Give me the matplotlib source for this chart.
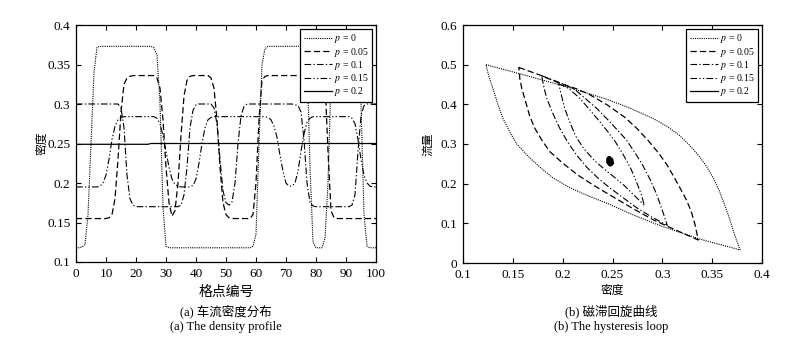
import matplotlib
matplotlib.use("Agg")
import matplotlib.pyplot as plt
import numpy as np

plt.rcParams['font.family'] = ['Liberation Serif', 'Noto Sans CJK SC']
plt.rcParams['mathtext.fontset'] = 'stix'

# ---- data: density profile along the lattice (sites 0..100) ----
sites = np.arange(101)

rho_p0 = [
    0.118, 0.118, 0.119, 0.122, 0.160, 0.250, 0.340, 0.372, 0.373, 0.373,
    0.373, 0.373, 0.373, 0.373, 0.373, 0.373, 0.373, 0.373, 0.373, 0.373,
    0.373, 0.373, 0.373, 0.373, 0.373, 0.373, 0.371, 0.362, 0.300, 0.170,
    0.120, 0.118, 0.118, 0.118, 0.118, 0.118, 0.118, 0.118, 0.118, 0.118,
    0.118, 0.118, 0.118, 0.118, 0.118, 0.118, 0.118, 0.118, 0.118, 0.118,
    0.118, 0.118, 0.118, 0.118, 0.118, 0.118, 0.118, 0.118, 0.118, 0.120,
    0.135, 0.250, 0.350, 0.370, 0.373, 0.373, 0.373, 0.373, 0.373, 0.373,
    0.373, 0.373, 0.373, 0.373, 0.373, 0.373, 0.372, 0.360, 0.220, 0.125,
    0.118, 0.118, 0.118, 0.130, 0.200, 0.330, 0.368, 0.373, 0.373, 0.373,
    0.373, 0.373, 0.373, 0.373, 0.365, 0.300, 0.160, 0.120, 0.118, 0.118,
    0.118]

rho_p005 = [
    0.155, 0.155, 0.155, 0.155, 0.155, 0.155, 0.155, 0.155, 0.155, 0.155,
    0.155, 0.156, 0.160, 0.180, 0.230, 0.290, 0.325, 0.333, 0.335, 0.336,
    0.336, 0.336, 0.336, 0.336, 0.336, 0.336, 0.336, 0.333, 0.320, 0.280,
    0.220, 0.175, 0.158, 0.165, 0.200, 0.260, 0.310, 0.330, 0.335, 0.336,
    0.336, 0.336, 0.336, 0.336, 0.336, 0.333, 0.320, 0.280, 0.220, 0.175,
    0.160, 0.156, 0.155, 0.155, 0.155, 0.155, 0.155, 0.155, 0.155, 0.160,
    0.200, 0.280, 0.330, 0.335, 0.336, 0.336, 0.336, 0.336, 0.336, 0.336,
    0.336, 0.336, 0.336, 0.336, 0.336, 0.336, 0.336, 0.336, 0.336, 0.336,
    0.336, 0.336, 0.336, 0.330, 0.240, 0.165, 0.156, 0.155, 0.155, 0.155,
    0.155, 0.155, 0.155, 0.155, 0.155, 0.155, 0.155, 0.155, 0.155, 0.155,
    0.155]

rho_p01 = [
    0.300, 0.300, 0.300, 0.300, 0.300, 0.300, 0.300, 0.300, 0.300, 0.300,
    0.300, 0.300, 0.300, 0.300, 0.300, 0.295, 0.270, 0.210, 0.180, 0.172,
    0.170, 0.170, 0.170, 0.170, 0.170, 0.170, 0.170, 0.170, 0.170, 0.170,
    0.170, 0.170, 0.170, 0.170, 0.170, 0.172, 0.185, 0.220, 0.270, 0.292,
    0.299, 0.300, 0.300, 0.300, 0.300, 0.300, 0.295, 0.275, 0.230, 0.190,
    0.175, 0.172, 0.176, 0.200, 0.250, 0.285, 0.297, 0.300, 0.300, 0.300,
    0.300, 0.300, 0.300, 0.300, 0.300, 0.300, 0.300, 0.300, 0.300, 0.300,
    0.300, 0.300, 0.300, 0.299, 0.298, 0.290, 0.255, 0.200, 0.175, 0.171,
    0.170, 0.170, 0.170, 0.170, 0.170, 0.170, 0.170, 0.170, 0.170, 0.170,
    0.170, 0.170, 0.172, 0.185, 0.240, 0.285, 0.298, 0.300, 0.300, 0.300,
    0.300]

rho_p015 = [
    0.195, 0.195, 0.195, 0.195, 0.195, 0.195, 0.195, 0.195, 0.196, 0.200,
    0.210, 0.230, 0.255, 0.272, 0.280, 0.283, 0.284, 0.284, 0.284, 0.284,
    0.284, 0.284, 0.284, 0.284, 0.284, 0.284, 0.284, 0.282, 0.275, 0.260,
    0.240, 0.220, 0.205, 0.198, 0.196, 0.195, 0.195, 0.195, 0.195, 0.197,
    0.205, 0.225, 0.250, 0.270, 0.280, 0.283, 0.284, 0.284, 0.284, 0.284,
    0.284, 0.284, 0.284, 0.284, 0.284, 0.284, 0.284, 0.284, 0.284, 0.284,
    0.284, 0.284, 0.284, 0.284, 0.283, 0.280, 0.272, 0.258, 0.235, 0.215,
    0.200, 0.196, 0.196, 0.200, 0.215, 0.240, 0.262, 0.277, 0.282, 0.284,
    0.284, 0.284, 0.284, 0.284, 0.284, 0.284, 0.284, 0.284, 0.284, 0.284,
    0.284, 0.284, 0.282, 0.275, 0.255, 0.230, 0.210, 0.200, 0.196, 0.195,
    0.195]

rho_p02 = [
    0.249, 0.249, 0.249, 0.249, 0.249, 0.249, 0.249, 0.249, 0.249, 0.249,
    0.249, 0.249, 0.249, 0.249, 0.249, 0.249, 0.249, 0.249, 0.249, 0.249,
    0.249, 0.249, 0.249, 0.249, 0.249, 0.250, 0.250, 0.250, 0.250, 0.250,
    0.250, 0.250, 0.250, 0.250, 0.250, 0.250, 0.250, 0.250, 0.250, 0.250,
    0.250, 0.250, 0.250, 0.250, 0.250, 0.250, 0.250, 0.250, 0.250, 0.250,
    0.250, 0.250, 0.250, 0.250, 0.250, 0.250, 0.250, 0.250, 0.250, 0.250,
    0.250, 0.250, 0.250, 0.250, 0.250, 0.250, 0.250, 0.250, 0.250, 0.250,
    0.250, 0.250, 0.250, 0.250, 0.250, 0.250, 0.250, 0.250, 0.250, 0.250,
    0.250, 0.250, 0.250, 0.250, 0.250, 0.250, 0.250, 0.250, 0.250, 0.250,
    0.250, 0.250, 0.250, 0.250, 0.250, 0.250, 0.250, 0.250, 0.250, 0.250,
    0.250]

# ---- data: hysteresis loops (density, flow), upper branch then lower branch ----
loop_rho_p0 = [0.123, 0.160, 0.197, 0.220, 0.244, 0.268, 0.291, 0.305, 0.317, 0.327,
               0.336, 0.344, 0.351, 0.357, 0.362, 0.367, 0.372, 0.378,
               0.338, 0.298, 0.270, 0.247, 0.225, 0.207, 0.190, 0.177, 0.165,
               0.154, 0.147, 0.140, 0.135, 0.130, 0.126, 0.123]
loop_q_p0 = [0.500, 0.475, 0.449, 0.432, 0.413, 0.390, 0.364, 0.344, 0.322, 0.298,
             0.272, 0.245, 0.215, 0.183, 0.150, 0.115, 0.075, 0.033,
             0.060, 0.094, 0.122, 0.148, 0.170, 0.190, 0.215, 0.242, 0.270,
             0.300, 0.330, 0.365, 0.400, 0.440, 0.470, 0.500]

loop_rho_p005 = [0.156, 0.177, 0.197, 0.213, 0.226, 0.245, 0.262, 0.275, 0.286, 0.296,
                 0.304, 0.311, 0.318, 0.324, 0.329, 0.333, 0.336,
                 0.310, 0.290, 0.270, 0.247, 0.231, 0.215, 0.200, 0.187, 0.179,
                 0.172, 0.167, 0.163, 0.159, 0.157, 0.156]
loop_q_p005 = [0.493, 0.474, 0.453, 0.440, 0.426, 0.398, 0.368, 0.338, 0.308, 0.278,
               0.250, 0.220, 0.188, 0.160, 0.130, 0.095, 0.058,
               0.087, 0.110, 0.138, 0.172, 0.196, 0.222, 0.252, 0.281, 0.310,
               0.340, 0.370, 0.405, 0.440, 0.465, 0.493]

loop_rho_p01 = [0.179, 0.200, 0.212, 0.224, 0.234, 0.245, 0.255, 0.264, 0.272, 0.280,
                0.288, 0.294, 0.299, 0.303, 0.305,
                0.290, 0.275, 0.262, 0.247, 0.235, 0.224, 0.214, 0.205, 0.197,
                0.190, 0.184, 0.181, 0.179]
loop_q_p01 = [0.472, 0.452, 0.438, 0.412, 0.390, 0.362, 0.335, 0.310, 0.280, 0.248,
              0.209, 0.175, 0.140, 0.110, 0.095,
              0.115, 0.138, 0.162, 0.190, 0.215, 0.242, 0.272, 0.305, 0.340,
              0.378, 0.415, 0.445, 0.472]

loop_rho_p015 = [0.196, 0.206, 0.216, 0.226, 0.236, 0.245, 0.253, 0.261, 0.268, 0.274,
                 0.279, 0.282,
                 0.272, 0.262, 0.252, 0.242, 0.232, 0.221, 0.213, 0.207, 0.202,
                 0.199, 0.196]
loop_q_p015 = [0.452, 0.440, 0.418, 0.390, 0.360, 0.332, 0.305, 0.272, 0.240, 0.205,
               0.172, 0.145,
               0.170, 0.195, 0.216, 0.236, 0.258, 0.289, 0.320, 0.356, 0.390,
               0.420, 0.452]

loop_rho_p02 = [0.2465, 0.2485, 0.2492, 0.2478, 0.2460, 0.2465]
loop_q_p02 = [0.263, 0.260, 0.252, 0.249, 0.255, 0.263]

labels = [r'$p$ = 0', r'$p$ = 0.05', r'$p$ = 0.1', r'$p$ = 0.15', r'$p$ = 0.2']
styles = [(0, (1, 1)), (0, (5, 2.5)), (0, (6, 2, 1.2, 2)),
          (0, (6, 2, 1.2, 2, 1.2, 2)), '-']
widths = [0.8, 0.9, 0.8, 0.8, 0.9]

fig = plt.figure(figsize=(7.95, 3.37), dpi=100)
ax1 = fig.add_axes([76 / 795, 75 / 337, 300 / 795, 237 / 337])
ax2 = fig.add_axes([463 / 795, 74 / 337, 299 / 795, 238 / 337])


def style_axes(ax):
    for s in ax.spines.values():
        s.set_linewidth(0.9)
        s.set_color('black')
    ax.tick_params(direction='in', length=3.5, width=0.8, top=True, right=True,
                   labelsize=9.5, pad=4, colors='black')


# left panel
profiles = [rho_p0, rho_p005, rho_p01, rho_p015, rho_p02]
for prof, lab, ls, lw in zip(profiles, labels, styles, widths):
    ax1.plot(sites, prof, color='black', linestyle=ls, linewidth=lw, label=lab)
ax1.set_xlim(0, 100)
ax1.set_ylim(0.1, 0.4)
ax1.set_xticks(range(0, 101, 10))
ax1.set_yticks([0.1, 0.15, 0.2, 0.25, 0.3, 0.35, 0.4])
ax1.set_yticklabels(['0.1', '0.15', '0.2', '0.25', '0.3', '0.35', '0.4'])
style_axes(ax1)
ax1.set_ylabel('密度', fontsize=8.5)
ax1.yaxis.set_label_coords(-0.093, 0.5)

# right panel
loops = [(loop_rho_p0, loop_q_p0), (loop_rho_p005, loop_q_p005),
         (loop_rho_p01, loop_q_p01), (loop_rho_p015, loop_q_p015)]
for (lr, lq), lab, ls, lw in zip(loops, labels[:4], styles[:4], widths[:4]):
    ax2.plot(lr, lq, color='black', linestyle=ls, linewidth=lw, label=lab)
ax2.plot(loop_rho_p02, loop_q_p02, color='black', linestyle='-', linewidth=3.5,
         solid_joinstyle='round', solid_capstyle='round')
ax2.plot([], [], color='black', linestyle='-', linewidth=0.9, label=labels[4])
ax2.set_xlim(0.1, 0.4)
ax2.set_ylim(0, 0.6)
ax2.set_xticks([0.1, 0.15, 0.2, 0.25, 0.3, 0.35, 0.4])
ax2.set_xticklabels(['0.1', '0.15', '0.2', '0.25', '0.3', '0.35', '0.4'])
ax2.set_yticks([0, 0.1, 0.2, 0.3, 0.4, 0.5, 0.6])
ax2.set_yticklabels(['0', '0.1', '0.2', '0.3', '0.4', '0.5', '0.6'])
style_axes(ax2)
ax2.set_ylabel('流量', fontsize=8.5)
ax2.yaxis.set_label_coords(-0.097, 0.5)

for ax in (ax1, ax2):
    leg = ax.legend(loc='upper right', fontsize=7, handlelength=2.9,
                    handletextpad=0.2, labelspacing=0.03, borderpad=0.35,
                    borderaxespad=0.4, fancybox=False, framealpha=1)
    leg.get_frame().set_edgecolor('black')
    leg.get_frame().set_linewidth(0.9)

# captions
fig.text(226 / 795, 1 - 292 / 337, '格点编号', ha='center', va='center', fontsize=10)
fig.text(226 / 795, 1 - 311 / 337, '(a) 车流密度分布', ha='center', va='center', fontsize=9)
fig.text(226 / 795, 1 - 327 / 337, '(a) The density profile', ha='center', va='center', fontsize=9)
fig.text(612 / 795, 1 - 291 / 337, '密度', ha='center', va='center', fontsize=8.5)
fig.text(611 / 795, 1 - 311 / 337, '(b) 磁滞回旋曲线', ha='center', va='center', fontsize=9)
fig.text(611 / 795, 1 - 327 / 337, '(b) The hysteresis loop', ha='center', va='center', fontsize=9)

fig.savefig('out.png', dpi=100)
